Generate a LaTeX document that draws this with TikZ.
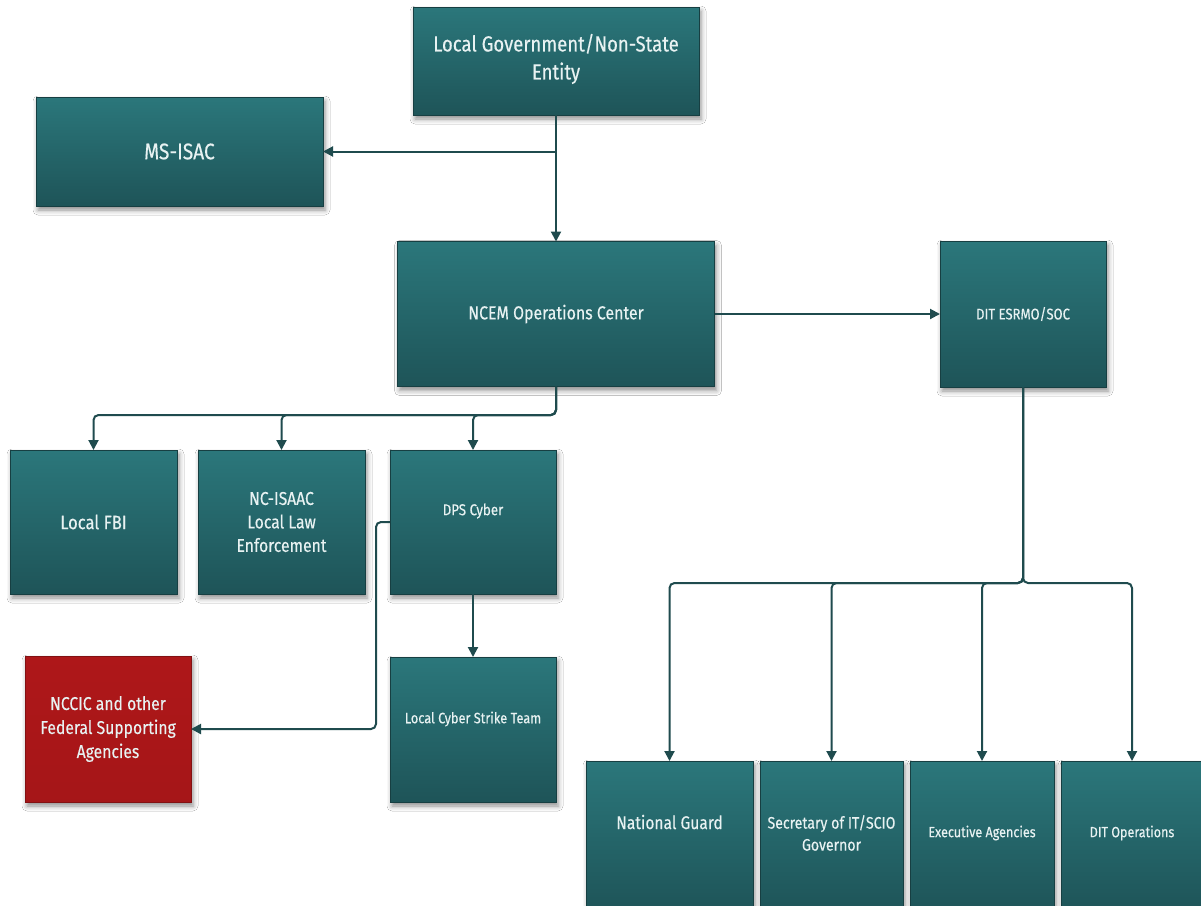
\documentclass[tikz,border=0pt]{standalone}
\usepackage{fontspec}
\setmainfont{Fira Sans}[FakeStretch=0.85,FakeBold=0.3]
\usetikzlibrary{arrows.meta,shadows.blur,calc}
\definecolor{tealtop}{HTML}{2B777B}
\definecolor{tealbot}{HTML}{1E5458}
\definecolor{tealedge}{HTML}{173F42}
\definecolor{linec}{HTML}{1F4B4E}
\definecolor{redbox}{HTML}{AE1719}
\definecolor{txt}{HTML}{E8F2F2}
\tikzset{
  box/.style={draw=tealedge, line width=1pt, top color=tealtop, bottom color=tealbot,
    text=txt, align=center, inner sep=0pt, outer sep=0pt,
    blur shadow={shadow xshift=2pt, shadow yshift=-4pt, shadow blur radius=5pt, shadow opacity=45}},
  redb/.style={box, draw=redbox!75!black, top color=redbox, bottom color=redbox!95!black},
  lbl/.style={text=txt, align=center, inner sep=0pt},
  conn/.style={draw=linec, line width=2pt, rounded corners=5pt, -{Triangle[width=10pt,length=10pt]}},
}
\begin{document}
\begin{tikzpicture}[x=1pt,y=-1pt]
\useasboundingbox (0,0) rectangle (1201,905);
\clip (0,0) rectangle (1201,905);
\fill[white] (0,0) rectangle (1201,905);
% boxes
\node[box, minimum width=286pt, minimum height=108pt] (lg) at (556,61) {};
\node[lbl, font=\fontsize{21.8}{28}\selectfont] (lg-t) at (556,59) {Local Government/Non-State\\Entity};
\node[box, minimum width=287pt, minimum height=109pt, font=\fontsize{22.6}{25}\selectfont] (ms) at (179.5,151.5) {MS-ISAC};
\node[box, minimum width=317pt, minimum height=145pt, font=\fontsize{18.7}{21}\selectfont] (ncem) at (556,314) {NCEM Operations Center};
\node[box, minimum width=166pt, minimum height=146pt, font=\fontsize{15.4}{18}\selectfont] (dit) at (1023,314) {DIT ESRMO/SOC};
\node[box, minimum width=167pt, minimum height=144pt, font=\fontsize{19.5}{22}\selectfont] (fbi) at (93.5,522) {Local FBI};
\node[box, minimum width=167pt, minimum height=144pt, font=\fontsize{18.5}{23.5}\selectfont] (isaac) at (281.5,522) {NC-ISAAC\\Local Law\\Enforcement};
\node[box, minimum width=166pt, minimum height=144pt] (dps) at (473,522) {};
\node[lbl, font=\fontsize{15.7}{18}\selectfont] (dps-t) at ([yshift=11pt]dps.center) {DPS Cyber};
\node[redb, minimum width=166pt, minimum height=146pt, font=\fontsize{18.5}{24}\selectfont] (nccic) at (108,729) {NCCIC and other\\Federal Supporting\\Agencies};
\node[box, minimum width=166pt, minimum height=145pt] (lcst) at (473,729.5) {};
\node[lbl, font=\fontsize{15}{17}\selectfont] (lcst-t) at ([yshift=10.5pt]lcst.center) {Local Cyber Strike Team};
\node[box, minimum width=167pt, minimum height=151pt] (ng) at (669.5,836.5) {};
\node[lbl, font=\fontsize{18.3}{21}\selectfont] (ng-t) at (669.5,822) {National Guard};
\node[box, minimum width=143pt, minimum height=151pt] (sec) at (831.5,836.5) {};
\node[lbl, font=\fontsize{16.6}{22}\selectfont] (sec-t) at (831.5,833) {Secretary of IT/SCIO\\Governor};
\node[box, minimum width=144pt, minimum height=151pt] (exa) at (982,836.5) {};
\node[lbl, font=\fontsize{14.8}{18}\selectfont] (exa-t) at (982,833) {Executive Agencies};
\node[box, minimum width=142pt, minimum height=151pt] (dops) at (1132,836.5) {};
\node[lbl, font=\fontsize{14.8}{18}\selectfont] (dops-t) at (1132,833) {DIT Operations};
% connectors
\draw[conn] (lg.south) -- (ncem.north);
\draw[conn] (lg.south |- ms.east) -- (ms.east);
\draw[conn] (ncem.east) -- (dit.west);
\coordinate (nb) at (556,415);
\draw[conn] (ncem.south) -- (nb) -| (fbi.north);
\draw[conn] (ncem.south) -- (nb) -| (isaac.north);
\draw[conn] (ncem.south) -- (nb) -| (dps.north);
\draw[conn] (dps.south) -- (lcst.north);
\draw[conn] (dps.west) -- ++(-14,0) |- (nccic.east);
\coordinate (db) at (1023,583);
\draw[conn] (dit.south) -- (db) -| (ng.north);
\draw[conn] (dit.south) -- (db) -| (sec.north);
\draw[conn] (dit.south) -- (db) -| (exa.north);
\draw[conn] (dit.south) -- (db) -| (dops.north);
\end{tikzpicture}
\end{document}
